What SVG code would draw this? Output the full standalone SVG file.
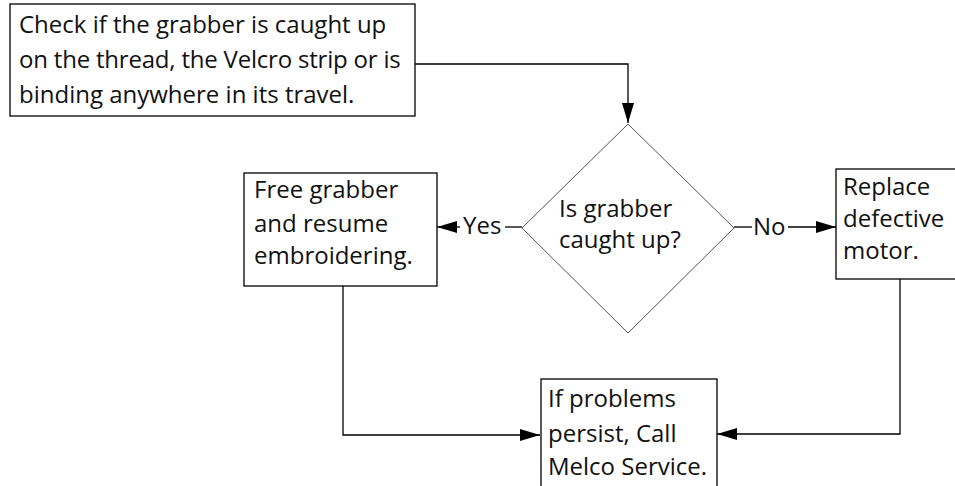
<svg xmlns="http://www.w3.org/2000/svg" width="955" height="486" viewBox="0 0 955 486">
  <style>
    .box { fill: #fff; stroke: #000; stroke-width: 1.3; }
    .dec { fill: #fff; stroke: #555; stroke-width: 1; }
    .txt { font-family: "Open Sans", "DejaVu Sans", sans-serif; font-size: 24px; fill: #111; }
    .wire { fill: none; stroke: #000; stroke-width: 1.3; }
  </style>
  <defs>
    <marker id="arrow" markerUnits="userSpaceOnUse" markerWidth="21" markerHeight="12" refX="20" refY="6" orient="auto">
      <path d="M0,0 L20,6 L0,12 Z" fill="#000"/>
    </marker>
  </defs>
  <rect width="955" height="486" fill="#fff"/>

  <g id="connectors">
    <polyline class="wire" points="415,64 628,64 628,123" marker-end="url(#arrow)"/>
    <line class="wire" x1="522" y1="227" x2="505" y2="227"/>
    <line class="wire" x1="460" y1="227" x2="437" y2="227" marker-end="url(#arrow)"/>
    <line class="wire" x1="734" y1="227" x2="752" y2="227"/>
    <line class="wire" x1="788" y1="227" x2="836" y2="227" marker-end="url(#arrow)"/>
    <polyline class="wire" points="343,286 343,435 540,435" marker-end="url(#arrow)"/>
    <polyline class="wire" points="900,279 900,434 717,434" marker-end="url(#arrow)"/>
  </g>

  <g id="check">
    <rect class="box" x="10" y="4" width="405" height="112"/>
    <text class="txt" x="19" y="33">Check if the grabber is caught up</text>
    <text class="txt" x="19" y="68" letter-spacing="-0.2">on the thread, the Velcro strip or is</text>
    <text class="txt" x="19" y="103">binding anywhere in its travel.</text>
  </g>

  <g id="decision">
    <polygon class="dec" points="628,124 734,228 628,333 522,228"/>
    <text class="txt" x="559" y="217">Is grabber</text>
    <text class="txt" x="559" y="248">caught up?</text>
  </g>

  <g id="free">
    <rect class="box" x="244" y="173" width="193" height="113"/>
    <text class="txt" x="254" y="198">Free grabber</text>
    <text class="txt" x="254" y="232">and resume</text>
    <text class="txt" x="254" y="264">embroidering.</text>
  </g>

  <g id="replace">
    <rect class="box" x="836" y="169" width="130" height="110"/>
    <text class="txt" x="843" y="195">Replace</text>
    <text class="txt" x="843" y="227">defective</text>
    <text class="txt" x="843" y="259">motor.</text>
  </g>

  <g id="service">
    <rect class="box" x="541" y="379" width="176" height="120"/>
    <text class="txt" x="548" y="407">If problems</text>
    <text class="txt" x="548" y="442">persist, Call</text>
    <text class="txt" x="548" y="475">Melco Service.</text>
  </g>

  <g id="labels">
    <text class="txt" x="463" y="234">Yes</text>
    <text class="txt" x="753" y="235">No</text>
  </g>
</svg>
